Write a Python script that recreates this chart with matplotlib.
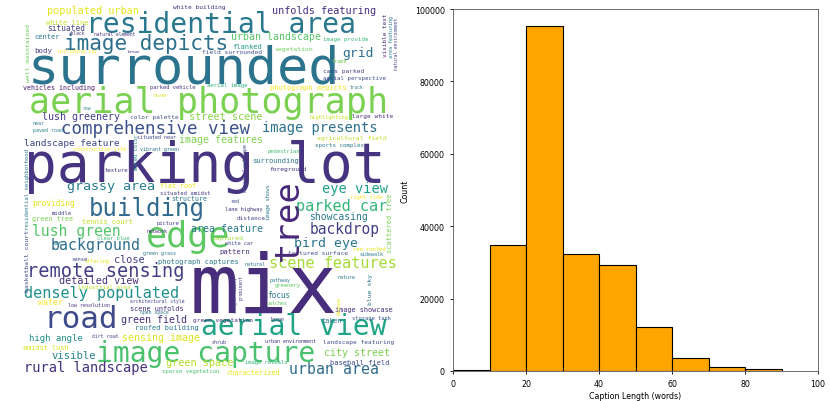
import matplotlib
matplotlib.use('Agg')
import matplotlib.pyplot as plt
import numpy as np

# ---- word cloud data: word, relative size (px em), colour ----
words = ['surrounded', 'parking lot', 'mix', 'aerial photograph', 'residential area',
         'image capture', 'aerial view', 'road', 'building', 'edge', 'image depicts',
         'remote sensing', 'comprehensive view', 'densely populated', 'lush green',
         'background', 'scene features', 'parked car', 'urban area', 'rural landscape',
         'backdrop', 'bird eye', 'eye view', 'image presents', 'grassy area', 'grid',
         'lush greenery', 'street scene', 'landscape feature', 'image features',
         'populated urban', 'unfolds featuring', 'urban landscape', 'area feature',
         'detailed view', 'green field', 'close', 'sensing image', 'high angle', 'visible',
         'green space', 'city street', 'showcasing', 'water', 'providing', 'white line',
         'situated', 'center', 'body', 'vehicles including', 'photograph depicts',
         'tennis court', 'green tree', 'flat roof', 'situated amidst', 'structure',
         'surrounding', 'foreground', 'agricultural field', 'sports complex', 'pedestrian',
         'distance', 'captured', 'white car', 'pattern', 'textured surface', 'image showcase',
         'taken', 'storage tank', 'green vegetation', 'focus', 'landscape featuring',
         'baseball field', 'characterized', 'sparse vegetation', 'image reveals',
         'amidst lush', 'roofed building', 'scene unfolds', 'architectural style',
         'low resolution', 'industrial area', 'photograph captures', 'offering', 'sense',
         'green grass', 'clear blue', 'set', 'network', 'picture', 'middle', 'texture',
         'vibrant green', 'construction site', 'situated near', 'paved road', 'near',
         'color palette', 'row', 'river', 'parked vehicle', 'aerial image', 'truck',
         'aerial perspective', 'cars parked', 'frame', 'image provide', 'flanked',
         'vegetation', 'field surrounded', 'including car', 'brown', '+black',
         'natural element', 'white building', 'highlighting', 'large white', 'right side',
         'red', 'lane highway', 'red roofed', 'sidewalk', 'nature', 'greenery', 'pathway',
         'patches', 'natural', 'large', 'shrub', 'urban environment', 'dirt road',
         'open space']
sizes = [52, 54.5, 82, 35, 28, 28, 28, 31, 24, 35, 21, 18.6, 17.5, 15.3, 14.7, 14.9, 15.3,
         15.3, 14.9, 13.8, 14.5, 13.2, 13.6, 13.7, 13.4, 13, 10, 10.1, 9.4, 10, 10.1, 10.1,
         9.9, 9.9, 10.1, 10, 10.3, 10, 9, 10.5, 10.2, 10, 9.8, 8.3, 7.9, 7.1, 7.9, 7.1, 7.4,
         6.7, 7.2, 7.2, 6.8, 6.6, 5.6, 6.6, 7.2, 6.3, 6.5, 5.8, 5.4, 6, 6.4, 5.3, 7.3, 6.2,
         6.9, 6.9, 5.4, 6.2, 7.6, 6.2, 7, 6.9, 5.7, 5.5, 6.9, 7, 6.9, 4.7, 5, 5.8, 7, 5.3,
         5.5, 5, 5.5, 5.5, 5, 5.5, 5.7, 5.6, 5, 5.3, 5, 5, 5, 6.1, 4.7, 5.2, 5.4, 5.6, 4.5,
         5.8, 6.2, 5.2, 5.8, 7.1, 6.4, 6.3, 5.3, 4.2, 4.5, 4.6, 6.3, 5.4, 6.2, 5.5, 5, 5.2,
         5.5, 5, 5, 5.5, 5, 5, 5, 5, 5, 5, 4.7, 4.7]
colors = ['#2c738e', '#463480', '#472d7b', '#7ad151', '#2a788e', '#4ac16d', '#20a386',
          '#3e4a89', '#31688e', '#5ec962', '#2d708e', '#433e85', '#3b528b', '#21918c',
          '#54c568', '#2e6e8e', '#a5db36', '#35b779', '#2f6c8e', '#46327e', '#433e85',
          '#2b748e', '#1fa088', '#2c718e', '#277f8e', '#2d708e', '#433e85', '#86d549',
          '#3f4788', '#7fd34e', '#e7e419', '#472f7d', '#56c667', '#2a788e', '#46307e',
          '#46307e', '#433e85', '#dde318', '#21918c', '#25848e', '#b5de2b', '#7ad151',
          '#2a788e', '#fde725', '#e2e418', '#c8e020', '#414487', '#2a788e', '#424086',
          '#481a6c', '#f1e51d', '#bddf26', '#7ad151', '#e5e419', '#433e85', '#2a788e',
          '#2a788e', '#46307e', '#c2df23', '#2a788e', '#3fbc73', '#414487', '#a0da39',
          '#414487', '#472d7b', '#3e4c8a', '#46307e', '#2a788e', '#3b528b', '#46307e',
          '#2a788e', '#3e4c8a', '#3e4989', '#e5e419', '#4ac16d', '#2fb47c', '#d8e219',
          '#2a788e', '#46307e', '#414487', '#46307e', '#bddf26', '#2a788e', '#e5e419',
          '#414487', '#2a788e', '#3fbc73', '#2a788e', '#46307e', '#414487', '#414487',
          '#46307e', '#2a788e', '#fde725', '#414487', '#25848e', '#2a788e', '#3e4c8a',
          '#25848e', '#dde318', '#46307e', '#2fb47c', '#2a788e', '#3e4c8a', '#453882',
          '#7ad151', '#3bbb75', '#1e9b8a', '#6ece58', '#3b528b', '#fde725', '#414487',
          '#46307e', '#46307e', '#46307e', '#c8e020', '#46307e', '#fde725', '#414487',
          '#46307e', '#e5e419', '#2a788e', '#2a788e', '#5ec962', '#2a788e', '#5ec962',
          '#2a788e', '#414487', '#414487', '#46307e', '#414487', '#2a788e']

# layout of horizontal words: left edge and baseline in pixels of the left panel
positions = [(31, 84), (27, 182), (195, 313), (31, 113), (88, 33), (98, 362), (203, 335),
             (45, 328), (90, 216), (148, 247), (65, 50), (28, 277), (62, 134), (25, 298),
             (33, 236), (52, 250), (270, 268), (297, 211), (290, 374), (25, 372), (310, 234),
             (295, 247), (323, 193), (263, 132), (68, 190), (343, 57), (43, 120), (190, 120),
             (25, 146), (180, 143), (48, 14), (273, 14), (232, 40), (192, 232), (60, 284),
             (122, 323), (115, 263), (123, 341), (30, 341), (52, 359), (167, 366), (325, 356),
             (310, 220), (38, 305), (33, 206), (46, 25), (48, 31), (35, 39), (35, 53), (23, 90),
             (270, 90), (82, 224), (32, 221), (160, 188), (160, 195), (172, 201), (253, 163),
             (270, 171), (317, 140), (315, 147), (268, 153), (237, 220), (213, 240), (225, 245),
             (220, 254), (288, 255), (335, 312), (322, 323), (352, 320), (193, 322), (268, 298),
             (323, 344), (330, 365), (227, 375), (162, 373), (245, 364), (23, 350), (135, 330),
             (130, 311), (130, 303), (68, 307), (78, 289), (158, 264), (85, 263), (72, 261),
             (143, 255), (97, 240), (53, 245), (147, 233), (157, 225), (52, 215), (105, 172),
             (140, 151), (73, 151), (137, 139), (33, 132), (33, 125), (130, 119), (82, 110),
             (152, 97), (150, 89), (207, 87), (350, 89), (323, 80), (323, 73), (332, 63),
             (323, 41), (233, 49), (275, 51), (202, 54), (57, 53), (128, 53), (69, 35), (94, 36),
             (173, 9), (310, 119), (352, 118), (350, 199), (230, 203), (225, 211), (353, 251),
             (360, 256), (338, 279), (275, 287), (270, 282), (267, 305), (245, 266), (270, 321),
             (212, 344), (265, 343), (92, 338), (140, 314)]

# vertical words
v_words = ['tree', 'well maintained', 'residential neighborhood', 'basketball court',
           'muted color', 'desert landscape', 'image shows', 'scattered tree', 'visible text',
           'area featuring', 'natural environment', 'single family', 'prominent', 'house',
           'blue sky']
v_sizes = [34, 6.5, 5.6, 6.5, 5.5, 5, 5.5, 7, 6, 5, 4.5, 4.5, 4.5, 6, 6.5]
v_colors = ['#482878', '#6ccd5a', '#2a788e', '#3e4c8a', '#25848e', '#414487', '#2a788e',
            '#7ad151', '#482677', '#2a788e', '#414487', '#414487', '#414487', '#e5e419',
            '#2a788e']
# baseline x and bottom y
v_positions = [(298, 259), (30, 82), (29, 230), (29, 292), (138, 170), (247, 192), (270, 220),
               (392, 253), (387, 57), (393, 58), (398, 70), (237, 313), (243, 300), (340, 315),
               (372, 305)]

# ---- histogram data ----
bin_edges = [0, 10, 20, 30, 40, 50, 60, 70, 80, 90]
counts = [370, 34800, 95400, 32400, 29400, 12150, 3700, 1100, 460]

fig = plt.figure(figsize=(8.3, 4.02), dpi=100)

# word cloud panel, in pixel coordinates
ax_wc = fig.add_axes([0, 0, 0.5, 1])
ax_wc.set_xlim(0, 415)
ax_wc.set_ylim(402, 0)
ax_wc.axis('off')

px2pt = 72 / 100
for w, s, c, (x, y) in zip(words, sizes, colors, positions):
    ax_wc.text(x - 0.06 * s, y, w, fontsize=s * px2pt, color=c, family='DejaVu Sans Mono',
               ha='left', va='baseline')
for w, s, c, (x, y) in zip(v_words, v_sizes, v_colors, v_positions):
    ax_wc.text(x, y + 0.06 * s, w, fontsize=s * px2pt, color=c, family='DejaVu Sans Mono',
               ha='left', va='baseline', rotation=90, rotation_mode='anchor')

# histogram panel
ax = fig.add_axes([453 / 830, 30 / 402, 365 / 830, 362 / 402])
centers = [(a + b) / 2 for a, b in zip(bin_edges[:-1], bin_edges[1:])]
ax.hist(centers, bins=bin_edges, weights=counts, color='orange', edgecolor='black', linewidth=0.8)
ax.set_xlim(0, 100)
ax.set_ylim(0, 100000)
ax.set_xticks(np.arange(0, 101, 20))
ax.set_yticks(np.arange(0, 100001, 20000))
ax.tick_params(labelsize=5.7, length=2.5, width=0.6)
for sp in ax.spines.values():
    sp.set_linewidth(0.6)
    sp.set_color('#555555')
ax.set_xlabel('Caption Length (words)', fontsize=5.7, labelpad=2)
ax.set_ylabel('Count', fontsize=5.7, labelpad=4)

fig.savefig('out.png', dpi=100)
